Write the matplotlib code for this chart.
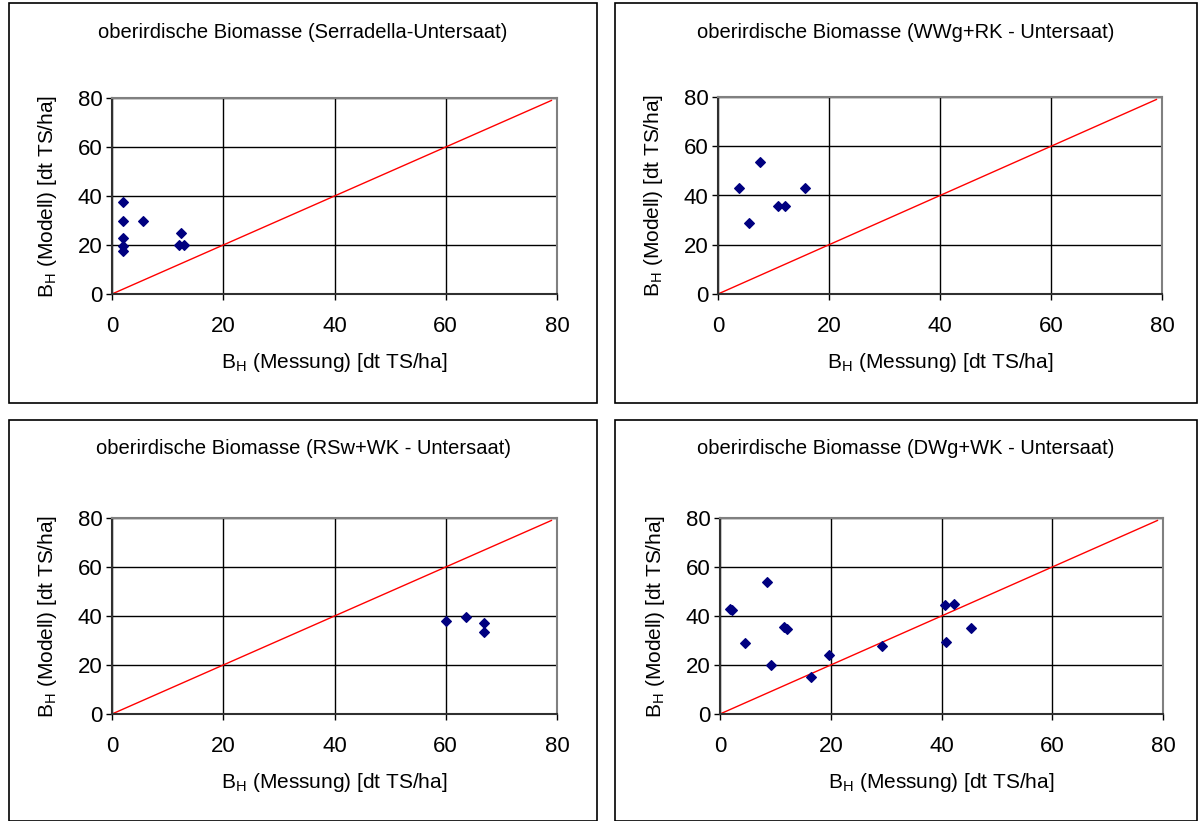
import matplotlib
matplotlib.use("Agg")
import matplotlib.pyplot as plt
from matplotlib.patches import Rectangle

plt.rcParams["font.family"] = ["Liberation Sans", "DejaVu Sans"]
plt.rcParams["mathtext.fontset"] = "custom"
plt.rcParams["mathtext.rm"] = "Liberation Sans"

titles = [
    "oberirdische Biomasse (Serradella-Untersaat)",
    "oberirdische Biomasse (WWg+RK - Untersaat)",
    "oberirdische Biomasse (RSw+WK - Untersaat)",
    "oberirdische Biomasse (DWg+WK - Untersaat)",
]

# Messung (x) / Modell (y), dt TS/ha
serradella_x = [1.9, 1.9, 5.6, 1.9, 1.9, 1.9, 12.4, 12.1, 12.9]
serradella_y = [37.4, 30.0, 30.0, 23.0, 19.7, 17.5, 24.9, 19.9, 20.0]

wwg_x = [7.5, 3.8, 15.6, 10.8, 12.1, 5.6]
wwg_y = [53.7, 43.0, 43.0, 35.9, 35.9, 29.0]

rsw_x = [60.1, 63.7, 66.8, 66.8]
rsw_y = [38.0, 39.7, 37.3, 33.6]

dwg_x = [8.5, 1.8, 2.1, 11.6, 12.1, 4.6, 9.3, 16.4, 19.7, 29.2, 40.7, 42.2, 45.4, 40.9]
dwg_y = [53.8, 43.0, 42.5, 35.5, 34.8, 29.0, 20.0, 15.1, 24.2, 27.6, 44.5, 44.8, 35.0, 29.5]

series = [(serradella_x, serradella_y), (wwg_x, wwg_y), (rsw_x, rsw_y), (dwg_x, dwg_y)]
ticks = [0, 20, 40, 60, 80]

W, H = 1198, 821
fig = plt.figure(figsize=(W / 100, H / 100), dpi=100)

# panel boxes (px): x0, y0, x1, y1 ; axes area (px): left, top, right, bottom
boxes = [(9, 3, 597, 403), (615, 3, 1197, 403), (9, 420, 597, 821), (615, 420, 1197, 821)]
areas = [(112, 98, 557, 294), (718, 97, 1162, 294), (112, 518, 557, 714), (720, 518, 1163, 714)]

for i in range(4):
    bx0, by0, bx1, by1 = boxes[i]
    fig.add_artist(Rectangle((bx0 / W, 1 - by1 / H), (bx1 - bx0) / W, (by1 - by0) / H,
                             transform=fig.transFigure, fill=False, edgecolor="black", lw=1.2))

    l, t, r, b = areas[i]
    ax = fig.add_axes([l / W, 1 - b / H, (r - l) / W, (b - t) / H])
    x, y = series[i]

    ax.plot([0, 79], [0, 79], color="red", lw=1, zorder=2)
    ax.scatter(x, y, marker="D", s=24, color="#000080", zorder=3)

    ax.set_xlim(0, 80)
    ax.set_ylim(0, 80)
    ax.set_xticks(ticks)
    ax.set_yticks(ticks)
    ax.grid(True, color="black", lw=1)
    ax.set_axisbelow(True)
    ax.tick_params(labelsize=16, length=4, width=1, direction="out")
    ax.tick_params(axis="x", pad=12)
    ax.tick_params(axis="y", pad=3)
    for s in ["top", "right"]:
        ax.spines[s].set_color("#808080")
        ax.spines[s].set_linewidth(1.5)
    for s in ["left", "bottom"]:
        ax.spines[s].set_color("#303030")
        ax.spines[s].set_linewidth(1.5)

    ax.set_xlabel(r"B$_\mathregular{H}$ (Messung) [dt TS/ha]", fontsize=15, labelpad=10)
    ax.set_ylabel(r"B$_\mathregular{H}$ (Modell) [dt TS/ha]", fontsize=15, labelpad=13)

    cx = (bx0 + bx1) / 2
    fig.text(cx / W, 1 - (by0 + 29) / H, titles[i], fontsize=14.5, ha="center", va="center")

fig.savefig("out.png", dpi=100)
